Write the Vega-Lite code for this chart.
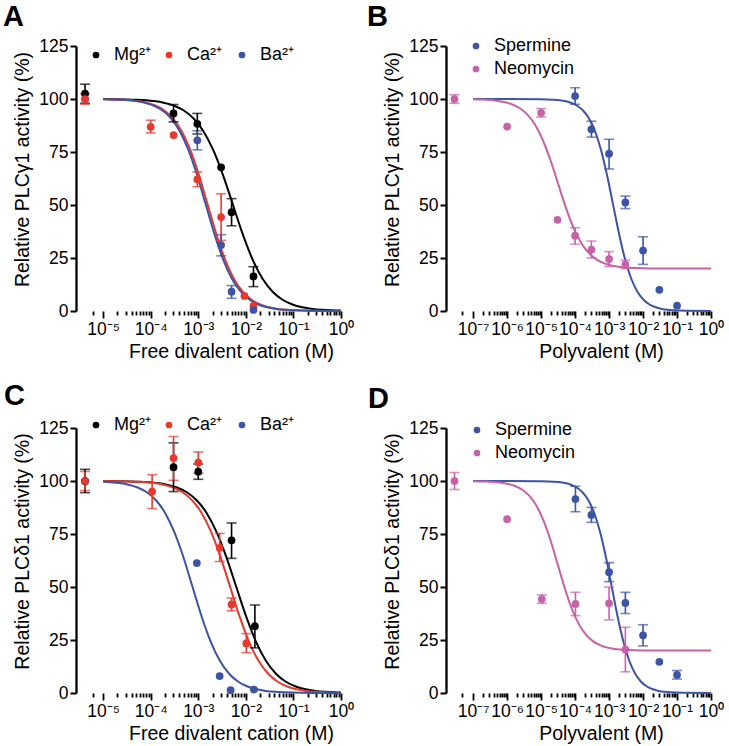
{
  "$schema": "https://vega.github.io/schema/vega-lite/v6.json",
  "padding": {"left": 3, "top": 3, "right": 5, "bottom": 5},
  "columns": 2,
  "spacing": {"row": 117, "column": 105},
  "bounds": "flush",
  "resolve": {"scale": {"color": "independent", "x": "independent", "y": "independent"}, "legend": {"color": "independent"}, "axis": {"x": "independent", "y": "independent"}},
  "datasets": {
    "seg": [
      {"p": "A", "x": -5.57, "x2": -5.22}, {"p": "A", "x": -5, "x2": 0},
      {"p": "C", "x": -5.57, "x2": -5.22}, {"p": "C", "x": -5, "x2": 0},
      {"p": "B", "x": -7.8, "x2": -7.33}, {"p": "B", "x": -7, "x2": 0},
      {"p": "D", "x": -7.8, "x2": -7.33}, {"p": "D", "x": -7, "x2": 0}
    ],
    "pts": [
      {"p": "A", "s": "Ba²⁺", "x": -5.38, "y": 100},
      {"p": "A", "s": "Mg²⁺", "x": -5.38, "y": 102.5, "lo": 98, "hi": 107},
      {"p": "A", "s": "Ca²⁺", "x": -5.38, "y": 100, "lo": 97.5, "hi": 102.5},
      {"p": "A", "s": "Mg²⁺", "x": -3.52, "y": 93.2, "lo": 89.2, "hi": 97.4},
      {"p": "A", "s": "Mg²⁺", "x": -3.02, "y": 88.3, "lo": 83.5, "hi": 93.2},
      {"p": "A", "s": "Mg²⁺", "x": -2.52, "y": 67.8},
      {"p": "A", "s": "Mg²⁺", "x": -2.3, "y": 46.6, "lo": 40.2, "hi": 53},
      {"p": "A", "s": "Mg²⁺", "x": -1.84, "y": 16.3, "lo": 11.5, "hi": 20.9},
      {"p": "A", "s": "Ca²⁺", "x": -4.0, "y": 86.9, "lo": 84, "hi": 90},
      {"p": "A", "s": "Ca²⁺", "x": -3.52, "y": 83},
      {"p": "A", "s": "Ca²⁺", "x": -3.02, "y": 62.1, "lo": 58.6, "hi": 65.6},
      {"p": "A", "s": "Ca²⁺", "x": -2.52, "y": 44.3, "lo": 33.3, "hi": 55.3},
      {"p": "A", "s": "Ca²⁺", "x": -2.03, "y": 7.1},
      {"p": "A", "s": "Ca²⁺", "x": -1.84, "y": 2.4},
      {"p": "A", "s": "Ba²⁺", "x": -3.02, "y": 80.5, "lo": 76, "hi": 85},
      {"p": "A", "s": "Ba²⁺", "x": -2.52, "y": 31.1, "lo": 26, "hi": 36},
      {"p": "A", "s": "Ba²⁺", "x": -2.3, "y": 9.1, "lo": 6, "hi": 12},
      {"p": "A", "s": "Ba²⁺", "x": -1.84, "y": 0.5},

      {"p": "B", "s": "Neomycin", "x": -7.55, "y": 100, "lo": 98, "hi": 102},
      {"p": "B", "s": "Spermine", "x": -4.0, "y": 101.4, "lo": 97.5, "hi": 105.3},
      {"p": "B", "s": "Spermine", "x": -3.52, "y": 85.7, "lo": 82, "hi": 89.5},
      {"p": "B", "s": "Spermine", "x": -3.0, "y": 74.2, "lo": 67, "hi": 81},
      {"p": "B", "s": "Spermine", "x": -2.52, "y": 51.2, "lo": 48.3, "hi": 54.2},
      {"p": "B", "s": "Spermine", "x": -2.0, "y": 28.5, "lo": 22, "hi": 35},
      {"p": "B", "s": "Spermine", "x": -1.52, "y": 10},
      {"p": "B", "s": "Spermine", "x": -1.0, "y": 2.5},
      {"p": "B", "s": "Neomycin", "x": -6.0, "y": 87},
      {"p": "B", "s": "Neomycin", "x": -5.0, "y": 93.5, "lo": 91.5, "hi": 95.5},
      {"p": "B", "s": "Neomycin", "x": -4.52, "y": 43},
      {"p": "B", "s": "Neomycin", "x": -4.0, "y": 35.5, "lo": 31.5, "hi": 39.3},
      {"p": "B", "s": "Neomycin", "x": -3.52, "y": 29, "lo": 25, "hi": 33},
      {"p": "B", "s": "Neomycin", "x": -3.0, "y": 24.5, "lo": 21, "hi": 28},
      {"p": "B", "s": "Neomycin", "x": -2.52, "y": 22, "lo": 20, "hi": 24},

      {"p": "C", "s": "Ba²⁺", "x": -5.38, "y": 100},
      {"p": "C", "s": "Mg²⁺", "x": -5.38, "y": 100, "lo": 94.5, "hi": 105.5},
      {"p": "C", "s": "Ca²⁺", "x": -5.38, "y": 100, "lo": 95.5, "hi": 104.5},
      {"p": "C", "s": "Mg²⁺", "x": -3.52, "y": 106.5, "lo": 95, "hi": 118},
      {"p": "C", "s": "Mg²⁺", "x": -3.0, "y": 104.4, "lo": 100.8, "hi": 108},
      {"p": "C", "s": "Mg²⁺", "x": -2.3, "y": 72, "lo": 63.5, "hi": 80.2},
      {"p": "C", "s": "Mg²⁺", "x": -1.81, "y": 31.5, "lo": 21.3, "hi": 41.5},
      {"p": "C", "s": "Ca²⁺", "x": -3.97, "y": 95, "lo": 87, "hi": 103},
      {"p": "C", "s": "Ca²⁺", "x": -3.52, "y": 110.8, "lo": 100.3, "hi": 121},
      {"p": "C", "s": "Ca²⁺", "x": -3.0, "y": 108.7, "lo": 103.7, "hi": 113.7},
      {"p": "C", "s": "Ca²⁺", "x": -2.55, "y": 68.5, "lo": 62, "hi": 75.3},
      {"p": "C", "s": "Ca²⁺", "x": -2.3, "y": 41.8, "lo": 38.8, "hi": 44.8},
      {"p": "C", "s": "Ca²⁺", "x": -1.99, "y": 23.4, "lo": 19, "hi": 28},
      {"p": "C", "s": "Ba²⁺", "x": -3.03, "y": 61.3},
      {"p": "C", "s": "Ba²⁺", "x": -2.55, "y": 8},
      {"p": "C", "s": "Ba²⁺", "x": -2.32, "y": 1.3},
      {"p": "C", "s": "Ba²⁺", "x": -1.83, "y": 1.6},

      {"p": "D", "s": "Neomycin", "x": -7.55, "y": 100, "lo": 96, "hi": 104},
      {"p": "D", "s": "Spermine", "x": -3.99, "y": 91.5, "lo": 85.5, "hi": 97.5},
      {"p": "D", "s": "Spermine", "x": -3.52, "y": 84, "lo": 80.5, "hi": 87.5},
      {"p": "D", "s": "Spermine", "x": -3.0, "y": 57, "lo": 52.5, "hi": 61.5},
      {"p": "D", "s": "Spermine", "x": -2.52, "y": 42.5, "lo": 37.5, "hi": 47.5},
      {"p": "D", "s": "Spermine", "x": -2.0, "y": 27.2, "lo": 22.2, "hi": 32.2},
      {"p": "D", "s": "Spermine", "x": -1.52, "y": 14.7},
      {"p": "D", "s": "Spermine", "x": -1.0, "y": 8.6, "lo": 6.6, "hi": 10.6},
      {"p": "D", "s": "Neomycin", "x": -6.0, "y": 82},
      {"p": "D", "s": "Neomycin", "x": -4.98, "y": 44.3, "lo": 42.3, "hi": 46.3},
      {"p": "D", "s": "Neomycin", "x": -3.99, "y": 42, "lo": 36.5, "hi": 47.5},
      {"p": "D", "s": "Neomycin", "x": -3.0, "y": 42.3, "lo": 34.5, "hi": 50},
      {"p": "D", "s": "Neomycin", "x": -2.52, "y": 20.5, "lo": 10, "hi": 31}
    ],
    "cv": [
      {"p":"A","s":"Mg²⁺","x":-5,"y":99.95},{"p":"A","s":"Mg²⁺","x":-4.77,"y":99.9},{"p":"A","s":"Mg²⁺","x":-4.353,"y":99.68},{"p":"A","s":"Mg²⁺","x":-3.937,"y":99.01},{"p":"A","s":"Mg²⁺","x":-3.728,"y":98.25},{"p":"A","s":"Mg²⁺","x":-3.52,"y":96.93},{"p":"A","s":"Mg²⁺","x":-3.312,"y":94.68},{"p":"A","s":"Mg²⁺","x":-3.103,"y":90.91},{"p":"A","s":"Mg²⁺","x":-2.895,"y":84.91},{"p":"A","s":"Mg²⁺","x":-2.687,"y":75.97},{"p":"A","s":"Mg²⁺","x":-2.478,"y":64.01},{"p":"A","s":"Mg²⁺","x":-2.27,"y":50},{"p":"A","s":"Mg²⁺","x":-2.062,"y":35.99},{"p":"A","s":"Mg²⁺","x":-1.853,"y":24.03},{"p":"A","s":"Mg²⁺","x":-1.645,"y":15.09},{"p":"A","s":"Mg²⁺","x":-1.437,"y":9.09},{"p":"A","s":"Mg²⁺","x":-1.228,"y":5.32},{"p":"A","s":"Mg²⁺","x":-1.02,"y":3.07},{"p":"A","s":"Mg²⁺","x":-0.812,"y":1.75},{"p":"A","s":"Mg²⁺","x":-0.603,"y":0.99},{"p":"A","s":"Mg²⁺","x":-0.395,"y":0.56},{"p":"A","s":"Mg²⁺","x":-0.187,"y":0.32},{"p":"A","s":"Mg²⁺","x":0,"y":0.19},

      {"p":"A","s":"Ca²⁺","x":-5,"y":99.9},{"p":"A","s":"Ca²⁺","x":-4.638,"y":99.68},{"p":"A","s":"Ca²⁺","x":-4.271,"y":99.01},{"p":"A","s":"Ca²⁺","x":-4.087,"y":98.25},{"p":"A","s":"Ca²⁺","x":-3.903,"y":96.93},{"p":"A","s":"Ca²⁺","x":-3.719,"y":94.68},{"p":"A","s":"Ca²⁺","x":-3.535,"y":90.91},{"p":"A","s":"Ca²⁺","x":-3.352,"y":84.91},{"p":"A","s":"Ca²⁺","x":-3.168,"y":75.97},{"p":"A","s":"Ca²⁺","x":-2.984,"y":64.01},{"p":"A","s":"Ca²⁺","x":-2.8,"y":50},{"p":"A","s":"Ca²⁺","x":-2.616,"y":35.99},{"p":"A","s":"Ca²⁺","x":-2.432,"y":24.03},{"p":"A","s":"Ca²⁺","x":-2.249,"y":15.09},{"p":"A","s":"Ca²⁺","x":-2.065,"y":9.09},{"p":"A","s":"Ca²⁺","x":-1.881,"y":5.32},{"p":"A","s":"Ca²⁺","x":-1.697,"y":3.07},{"p":"A","s":"Ca²⁺","x":-1.513,"y":1.75},{"p":"A","s":"Ca²⁺","x":-1.329,"y":0.99},{"p":"A","s":"Ca²⁺","x":-1.146,"y":0.56},{"p":"A","s":"Ca²⁺","x":-0.962,"y":0.32},{"p":"A","s":"Ca²⁺","x":-0.594,"y":0.1},{"p":"A","s":"Ca²⁺","x":0,"y":0.02},

      {"p":"A","s":"Ba²⁺","x":-5,"y":99.89},{"p":"A","s":"Ba²⁺","x":-4.678,"y":99.68},{"p":"A","s":"Ba²⁺","x":-4.311,"y":99.01},{"p":"A","s":"Ba²⁺","x":-4.127,"y":98.25},{"p":"A","s":"Ba²⁺","x":-3.943,"y":96.93},{"p":"A","s":"Ba²⁺","x":-3.759,"y":94.68},{"p":"A","s":"Ba²⁺","x":-3.575,"y":90.91},{"p":"A","s":"Ba²⁺","x":-3.392,"y":84.91},{"p":"A","s":"Ba²⁺","x":-3.208,"y":75.97},{"p":"A","s":"Ba²⁺","x":-3.024,"y":64.01},{"p":"A","s":"Ba²⁺","x":-2.84,"y":50},{"p":"A","s":"Ba²⁺","x":-2.656,"y":35.99},{"p":"A","s":"Ba²⁺","x":-2.472,"y":24.03},{"p":"A","s":"Ba²⁺","x":-2.289,"y":15.09},{"p":"A","s":"Ba²⁺","x":-2.105,"y":9.09},{"p":"A","s":"Ba²⁺","x":-1.921,"y":5.32},{"p":"A","s":"Ba²⁺","x":-1.737,"y":3.07},{"p":"A","s":"Ba²⁺","x":-1.553,"y":1.75},{"p":"A","s":"Ba²⁺","x":-1.369,"y":0.99},{"p":"A","s":"Ba²⁺","x":-1.186,"y":0.56},{"p":"A","s":"Ba²⁺","x":-1.002,"y":0.32},{"p":"A","s":"Ba²⁺","x":-0.634,"y":0.1},{"p":"A","s":"Ba²⁺","x":0,"y":0.01},

      {"p":"B","s":"Spermine","x":-7,"y":100},{"p":"B","s":"Spermine","x":-6,"y":100},{"p":"B","s":"Spermine","x":-5.023,"y":99.9},{"p":"B","s":"Spermine","x":-4.666,"y":99.68},{"p":"B","s":"Spermine","x":-4.309,"y":99.01},{"p":"B","s":"Spermine","x":-4.13,"y":98.25},{"p":"B","s":"Spermine","x":-3.951,"y":96.93},{"p":"B","s":"Spermine","x":-3.773,"y":94.68},{"p":"B","s":"Spermine","x":-3.594,"y":90.91},{"p":"B","s":"Spermine","x":-3.416,"y":84.91},{"p":"B","s":"Spermine","x":-3.237,"y":75.97},{"p":"B","s":"Spermine","x":-3.059,"y":64.01},{"p":"B","s":"Spermine","x":-2.88,"y":50},{"p":"B","s":"Spermine","x":-2.701,"y":35.99},{"p":"B","s":"Spermine","x":-2.523,"y":24.03},{"p":"B","s":"Spermine","x":-2.344,"y":15.09},{"p":"B","s":"Spermine","x":-2.166,"y":9.09},{"p":"B","s":"Spermine","x":-1.987,"y":5.32},{"p":"B","s":"Spermine","x":-1.809,"y":3.07},{"p":"B","s":"Spermine","x":-1.63,"y":1.75},{"p":"B","s":"Spermine","x":-1.451,"y":0.99},{"p":"B","s":"Spermine","x":-1.273,"y":0.56},{"p":"B","s":"Spermine","x":-1.094,"y":0.32},{"p":"B","s":"Spermine","x":-0.737,"y":0.1},{"p":"B","s":"Spermine","x":0,"y":0.01},

      {"p":"B","s":"Neomycin","x":-7,"y":99.86},{"p":"B","s":"Neomycin","x":-6.773,"y":99.74},{"p":"B","s":"Neomycin","x":-6.318,"y":99.21},{"p":"B","s":"Neomycin","x":-6.091,"y":98.6},{"p":"B","s":"Neomycin","x":-5.864,"y":97.54},{"p":"B","s":"Neomycin","x":-5.636,"y":95.74},{"p":"B","s":"Neomycin","x":-5.409,"y":92.73},{"p":"B","s":"Neomycin","x":-5.182,"y":87.93},{"p":"B","s":"Neomycin","x":-4.955,"y":80.78},{"p":"B","s":"Neomycin","x":-4.727,"y":71.21},{"p":"B","s":"Neomycin","x":-4.5,"y":60},{"p":"B","s":"Neomycin","x":-4.273,"y":48.79},{"p":"B","s":"Neomycin","x":-4.045,"y":39.22},{"p":"B","s":"Neomycin","x":-3.818,"y":32.07},{"p":"B","s":"Neomycin","x":-3.591,"y":27.27},{"p":"B","s":"Neomycin","x":-3.364,"y":24.26},{"p":"B","s":"Neomycin","x":-3.136,"y":22.46},{"p":"B","s":"Neomycin","x":-2.909,"y":21.4},{"p":"B","s":"Neomycin","x":-2.682,"y":20.79},{"p":"B","s":"Neomycin","x":-2.227,"y":20.26},{"p":"B","s":"Neomycin","x":-1.773,"y":20.08},{"p":"B","s":"Neomycin","x":0,"y":20},

      {"p":"C","s":"Mg²⁺","x":-5,"y":99.96},{"p":"C","s":"Mg²⁺","x":-4.7,"y":99.9},{"p":"C","s":"Mg²⁺","x":-4.283,"y":99.68},{"p":"C","s":"Mg²⁺","x":-3.867,"y":99.01},{"p":"C","s":"Mg²⁺","x":-3.658,"y":98.25},{"p":"C","s":"Mg²⁺","x":-3.45,"y":96.93},{"p":"C","s":"Mg²⁺","x":-3.242,"y":94.68},{"p":"C","s":"Mg²⁺","x":-3.033,"y":90.91},{"p":"C","s":"Mg²⁺","x":-2.825,"y":84.91},{"p":"C","s":"Mg²⁺","x":-2.617,"y":75.97},{"p":"C","s":"Mg²⁺","x":-2.408,"y":64.01},{"p":"C","s":"Mg²⁺","x":-2.2,"y":50},{"p":"C","s":"Mg²⁺","x":-1.992,"y":35.99},{"p":"C","s":"Mg²⁺","x":-1.783,"y":24.03},{"p":"C","s":"Mg²⁺","x":-1.575,"y":15.09},{"p":"C","s":"Mg²⁺","x":-1.367,"y":9.09},{"p":"C","s":"Mg²⁺","x":-1.158,"y":5.32},{"p":"C","s":"Mg²⁺","x":-0.95,"y":3.07},{"p":"C","s":"Mg²⁺","x":-0.742,"y":1.75},{"p":"C","s":"Mg²⁺","x":-0.533,"y":0.99},{"p":"C","s":"Mg²⁺","x":-0.325,"y":0.56},{"p":"C","s":"Mg²⁺","x":-0.117,"y":0.32},{"p":"C","s":"Mg²⁺","x":0,"y":0.23},

      {"p":"C","s":"Ca²⁺","x":-5,"y":99.95},{"p":"C","s":"Ca²⁺","x":-4.73,"y":99.9},{"p":"C","s":"Ca²⁺","x":-4.33,"y":99.68},{"p":"C","s":"Ca²⁺","x":-3.93,"y":99.01},{"p":"C","s":"Ca²⁺","x":-3.73,"y":98.25},{"p":"C","s":"Ca²⁺","x":-3.53,"y":96.93},{"p":"C","s":"Ca²⁺","x":-3.33,"y":94.68},{"p":"C","s":"Ca²⁺","x":-3.13,"y":90.91},{"p":"C","s":"Ca²⁺","x":-2.93,"y":84.91},{"p":"C","s":"Ca²⁺","x":-2.73,"y":75.97},{"p":"C","s":"Ca²⁺","x":-2.53,"y":64.01},{"p":"C","s":"Ca²⁺","x":-2.33,"y":50},{"p":"C","s":"Ca²⁺","x":-2.13,"y":35.99},{"p":"C","s":"Ca²⁺","x":-1.93,"y":24.03},{"p":"C","s":"Ca²⁺","x":-1.73,"y":15.09},{"p":"C","s":"Ca²⁺","x":-1.53,"y":9.09},{"p":"C","s":"Ca²⁺","x":-1.33,"y":5.32},{"p":"C","s":"Ca²⁺","x":-1.13,"y":3.07},{"p":"C","s":"Ca²⁺","x":-0.93,"y":1.75},{"p":"C","s":"Ca²⁺","x":-0.73,"y":0.99},{"p":"C","s":"Ca²⁺","x":-0.53,"y":0.56},{"p":"C","s":"Ca²⁺","x":-0.33,"y":0.32},{"p":"C","s":"Ca²⁺","x":0,"y":0.12},

      {"p":"C","s":"Ba²⁺","x":-5,"y":99.64},{"p":"C","s":"Ba²⁺","x":-4.851,"y":99.44},{"p":"C","s":"Ba²⁺","x":-4.658,"y":99.01},{"p":"C","s":"Ba²⁺","x":-4.466,"y":98.25},{"p":"C","s":"Ba²⁺","x":-4.274,"y":96.93},{"p":"C","s":"Ba²⁺","x":-4.082,"y":94.68},{"p":"C","s":"Ba²⁺","x":-3.889,"y":90.91},{"p":"C","s":"Ba²⁺","x":-3.697,"y":84.91},{"p":"C","s":"Ba²⁺","x":-3.505,"y":75.97},{"p":"C","s":"Ba²⁺","x":-3.312,"y":64.01},{"p":"C","s":"Ba²⁺","x":-3.12,"y":50},{"p":"C","s":"Ba²⁺","x":-2.928,"y":35.99},{"p":"C","s":"Ba²⁺","x":-2.735,"y":24.03},{"p":"C","s":"Ba²⁺","x":-2.543,"y":15.09},{"p":"C","s":"Ba²⁺","x":-2.351,"y":9.09},{"p":"C","s":"Ba²⁺","x":-2.158,"y":5.32},{"p":"C","s":"Ba²⁺","x":-1.966,"y":3.07},{"p":"C","s":"Ba²⁺","x":-1.774,"y":1.75},{"p":"C","s":"Ba²⁺","x":-1.582,"y":0.99},{"p":"C","s":"Ba²⁺","x":-1.389,"y":0.56},{"p":"C","s":"Ba²⁺","x":-1.197,"y":0.32},{"p":"C","s":"Ba²⁺","x":-0.812,"y":0.1},{"p":"C","s":"Ba²⁺","x":0,"y":0.01},

      {"p":"D","s":"Spermine","x":-7,"y":100},{"p":"D","s":"Spermine","x":-6,"y":100},{"p":"D","s":"Spermine","x":-4.989,"y":99.9},{"p":"D","s":"Spermine","x":-4.644,"y":99.68},{"p":"D","s":"Spermine","x":-4.299,"y":99.01},{"p":"D","s":"Spermine","x":-4.127,"y":98.25},{"p":"D","s":"Spermine","x":-3.954,"y":96.93},{"p":"D","s":"Spermine","x":-3.782,"y":94.68},{"p":"D","s":"Spermine","x":-3.61,"y":90.91},{"p":"D","s":"Spermine","x":-3.437,"y":84.91},{"p":"D","s":"Spermine","x":-3.265,"y":75.97},{"p":"D","s":"Spermine","x":-3.092,"y":64.01},{"p":"D","s":"Spermine","x":-2.92,"y":50},{"p":"D","s":"Spermine","x":-2.748,"y":35.99},{"p":"D","s":"Spermine","x":-2.575,"y":24.03},{"p":"D","s":"Spermine","x":-2.403,"y":15.09},{"p":"D","s":"Spermine","x":-2.23,"y":9.09},{"p":"D","s":"Spermine","x":-2.058,"y":5.32},{"p":"D","s":"Spermine","x":-1.886,"y":3.07},{"p":"D","s":"Spermine","x":-1.713,"y":1.75},{"p":"D","s":"Spermine","x":-1.541,"y":0.99},{"p":"D","s":"Spermine","x":-1.368,"y":0.56},{"p":"D","s":"Spermine","x":-1.196,"y":0.32},{"p":"D","s":"Spermine","x":-0.851,"y":0.1},{"p":"D","s":"Spermine","x":0,"y":0},

      {"p":"D","s":"Neomycin","x":-7,"y":99.92},{"p":"D","s":"Neomycin","x":-6.583,"y":99.74},{"p":"D","s":"Neomycin","x":-6.167,"y":99.21},{"p":"D","s":"Neomycin","x":-5.958,"y":98.6},{"p":"D","s":"Neomycin","x":-5.75,"y":97.54},{"p":"D","s":"Neomycin","x":-5.542,"y":95.74},{"p":"D","s":"Neomycin","x":-5.333,"y":92.73},{"p":"D","s":"Neomycin","x":-5.125,"y":87.93},{"p":"D","s":"Neomycin","x":-4.917,"y":80.78},{"p":"D","s":"Neomycin","x":-4.708,"y":71.21},{"p":"D","s":"Neomycin","x":-4.5,"y":60},{"p":"D","s":"Neomycin","x":-4.292,"y":48.79},{"p":"D","s":"Neomycin","x":-4.083,"y":39.22},{"p":"D","s":"Neomycin","x":-3.875,"y":32.07},{"p":"D","s":"Neomycin","x":-3.667,"y":27.27},{"p":"D","s":"Neomycin","x":-3.458,"y":24.26},{"p":"D","s":"Neomycin","x":-3.25,"y":22.46},{"p":"D","s":"Neomycin","x":-3.042,"y":21.4},{"p":"D","s":"Neomycin","x":-2.833,"y":20.79},{"p":"D","s":"Neomycin","x":-2.417,"y":20.26},{"p":"D","s":"Neomycin","x":-2.0,"y":20.08},{"p":"D","s":"Neomycin","x":0,"y":20}
    ]
  },
  "concat": [
    {
      "width": 265, "height": 265,
      "title": {"text": "A", "dx": -73},
      "encoding": {
        "x": {"field": "x", "type": "quantitative", "scale": {"domain": [-5.57, 0], "nice": false, "zero": false},
          "axis": {"title": "Free divalent cation (M)", "domain": false, "grid": false,
            "values": [-5.22, -5, -4.699, -4.523, -4.398, -4.301, -4.222, -4.155, -4.097, -4.046, -4, -3.699, -3.523, -3.398, -3.301, -3.222, -3.155, -3.097, -3.046, -3, -2.699, -2.523, -2.398, -2.301, -2.222, -2.155, -2.097, -2.046, -2, -1.699, -1.523, -1.398, -1.301, -1.222, -1.155, -1.097, -1.046, -1, -0.699, -0.523, -0.398, -0.301, -0.222, -0.155, -0.097, -0.046, 0],
            "labelExpr": "abs(datum.value - round(datum.value)) < 0.001 ? ['10⁰','10⁻¹','10⁻²','10⁻³','10⁻⁴','10⁻⁵','10⁻⁶','10⁻⁷'][abs(round(datum.value))] : ''",
            "tickSize": {"condition": {"test": "abs(datum.value - round(datum.value)) < 0.001", "value": 7}, "value": 4},
            "titleX": 155, "titleY": 46, "titleAlign": "center", "titleBaseline": "alphabetic"}},
        "y": {"field": "y", "type": "quantitative", "scale": {"domain": [0, 125], "nice": false},
          "axis": {"title": "Relative PLCγ1 activity (%)", "values": [0, 25, 50, 75, 100, 125], "grid": false, "titleX": -48, "titleY": 123, "titleAngle": 270, "titleAlign": "center", "titleBaseline": "alphabetic"}},
        "color": {"field": "s", "type": "nominal", "scale": {"domain": ["Mg²⁺", "Ca²⁺", "Ba²⁺"], "range": ["#000000", "#E8392D", "#3D54A4"]},
          "legend": {"orient": "none", "legendX": 11, "legendY": 0, "direction": "horizontal", "gridAlign": "all", "columnPadding": 9, "title": null}}
      },
      "layer": [
        {"data": {"name": "seg"}, "transform": [{"filter": "datum.p == 'A'"}],
          "mark": {"type": "rule", "color": "black", "strokeWidth": 2.3},
          "encoding": {"x2": {"field": "x2"}, "y": {"datum": 0, "type": "quantitative"}, "color": {"value": "black"}}},
        {"data": {"name": "cv"}, "transform": [{"filter": "datum.p == 'A'"}],
          "mark": {"type": "line", "strokeWidth": 2, "interpolate": "monotone"}},
        {"data": {"name": "pts"}, "transform": [{"filter": "datum.p == 'A' && datum.lo != null"}],
          "mark": {"type": "errorbar", "thickness": 1.6, "ticks": {"size": 10, "thickness": 1.6}},
          "encoding": {"y": {"field": "lo", "type": "quantitative"}, "y2": {"field": "hi"}}},
        {"data": {"name": "pts"}, "transform": [{"filter": "datum.p == 'A'"}],
          "mark": {"type": "point", "filled": true, "size": 60, "opacity": 1}}
      ]
    },
    {
      "width": 265, "height": 265,
      "title": {"text": "B", "dx": -79},
      "encoding": {
        "x": {"field": "x", "type": "quantitative", "scale": {"domain": [-7.8, 0], "nice": false, "zero": false},
          "axis": {"title": "Polyvalent (M)", "domain": false, "grid": false,
            "values": [-7.33, -7, -6.699, -6.523, -6.398, -6.301, -6.222, -6.155, -6.097, -6.046, -6, -5.699, -5.523, -5.398, -5.301, -5.222, -5.155, -5.097, -5.046, -5, -4.699, -4.523, -4.398, -4.301, -4.222, -4.155, -4.097, -4.046, -4, -3.699, -3.523, -3.398, -3.301, -3.222, -3.155, -3.097, -3.046, -3, -2.699, -2.523, -2.398, -2.301, -2.222, -2.155, -2.097, -2.046, -2, -1.699, -1.523, -1.398, -1.301, -1.222, -1.155, -1.097, -1.046, -1, -0.699, -0.523, -0.398, -0.301, -0.222, -0.155, -0.097, -0.046, 0],
            "labelExpr": "abs(datum.value - round(datum.value)) < 0.001 ? ['10⁰','10⁻¹','10⁻²','10⁻³','10⁻⁴','10⁻⁵','10⁻⁶','10⁻⁷'][abs(round(datum.value))] : ''",
            "tickSize": {"condition": {"test": "abs(datum.value - round(datum.value)) < 0.001", "value": 7}, "value": 4},
            "titleX": 155, "titleY": 46, "titleAlign": "center", "titleBaseline": "alphabetic"}},
        "y": {"field": "y", "type": "quantitative", "scale": {"domain": [0, 125], "nice": false},
          "axis": {"title": "Relative PLCγ1 activity (%)", "values": [0, 25, 50, 75, 100, 125], "grid": false, "titleX": -48, "titleY": 123, "titleAngle": 270, "titleAlign": "center", "titleBaseline": "alphabetic"}},
        "color": {"field": "s", "type": "nominal", "scale": {"domain": ["Spermine", "Neomycin"], "range": ["#3D54A4", "#C761A8"]},
          "legend": {"orient": "none", "legendX": 21, "legendY": -9, "direction": "vertical", "title": null}}
      },
      "layer": [
        {"data": {"name": "seg"}, "transform": [{"filter": "datum.p == 'B'"}],
          "mark": {"type": "rule", "color": "black", "strokeWidth": 2.3},
          "encoding": {"x2": {"field": "x2"}, "y": {"datum": 0, "type": "quantitative"}, "color": {"value": "black"}}},
        {"data": {"name": "cv"}, "transform": [{"filter": "datum.p == 'B'"}],
          "mark": {"type": "line", "strokeWidth": 2, "interpolate": "monotone"}},
        {"data": {"name": "pts"}, "transform": [{"filter": "datum.p == 'B' && datum.lo != null"}],
          "mark": {"type": "errorbar", "thickness": 1.6, "ticks": {"size": 10, "thickness": 1.6}},
          "encoding": {"y": {"field": "lo", "type": "quantitative"}, "y2": {"field": "hi"}}},
        {"data": {"name": "pts"}, "transform": [{"filter": "datum.p == 'B'"}],
          "mark": {"type": "point", "filled": true, "size": 60, "opacity": 1}}
      ]
    },
    {
      "width": 265, "height": 265,
      "title": {"text": "C", "dx": -72},
      "encoding": {
        "x": {"field": "x", "type": "quantitative", "scale": {"domain": [-5.57, 0], "nice": false, "zero": false},
          "axis": {"title": "Free divalent cation (M)", "domain": false, "grid": false,
            "values": [-5.22, -5, -4.699, -4.523, -4.398, -4.301, -4.222, -4.155, -4.097, -4.046, -4, -3.699, -3.523, -3.398, -3.301, -3.222, -3.155, -3.097, -3.046, -3, -2.699, -2.523, -2.398, -2.301, -2.222, -2.155, -2.097, -2.046, -2, -1.699, -1.523, -1.398, -1.301, -1.222, -1.155, -1.097, -1.046, -1, -0.699, -0.523, -0.398, -0.301, -0.222, -0.155, -0.097, -0.046, 0],
            "labelExpr": "abs(datum.value - round(datum.value)) < 0.001 ? ['10⁰','10⁻¹','10⁻²','10⁻³','10⁻⁴','10⁻⁵','10⁻⁶','10⁻⁷'][abs(round(datum.value))] : ''",
            "tickSize": {"condition": {"test": "abs(datum.value - round(datum.value)) < 0.001", "value": 7}, "value": 4},
            "titleX": 155, "titleY": 46, "titleAlign": "center", "titleBaseline": "alphabetic"}},
        "y": {"field": "y", "type": "quantitative", "scale": {"domain": [0, 125], "nice": false},
          "axis": {"title": "Relative PLCδ1 activity (%)", "values": [0, 25, 50, 75, 100, 125], "grid": false, "titleX": -48, "titleY": 123, "titleAngle": 270, "titleAlign": "center", "titleBaseline": "alphabetic"}},
        "color": {"field": "s", "type": "nominal", "scale": {"domain": ["Mg²⁺", "Ca²⁺", "Ba²⁺"], "range": ["#000000", "#E8392D", "#3D54A4"]},
          "legend": {"orient": "none", "legendX": 11, "legendY": -12, "direction": "horizontal", "gridAlign": "all", "columnPadding": 9, "title": null}}
      },
      "layer": [
        {"data": {"name": "seg"}, "transform": [{"filter": "datum.p == 'C'"}],
          "mark": {"type": "rule", "color": "black", "strokeWidth": 2.3},
          "encoding": {"x2": {"field": "x2"}, "y": {"datum": 0, "type": "quantitative"}, "color": {"value": "black"}}},
        {"data": {"name": "cv"}, "transform": [{"filter": "datum.p == 'C'"}],
          "mark": {"type": "line", "strokeWidth": 2, "interpolate": "monotone"}},
        {"data": {"name": "pts"}, "transform": [{"filter": "datum.p == 'C' && datum.lo != null"}],
          "mark": {"type": "errorbar", "thickness": 1.6, "ticks": {"size": 10, "thickness": 1.6}},
          "encoding": {"y": {"field": "lo", "type": "quantitative"}, "y2": {"field": "hi"}}},
        {"data": {"name": "pts"}, "transform": [{"filter": "datum.p == 'C'"}],
          "mark": {"type": "point", "filled": true, "size": 60, "opacity": 1}}
      ]
    },
    {
      "width": 265, "height": 265,
      "title": {"text": "D", "dx": -78},
      "encoding": {
        "x": {"field": "x", "type": "quantitative", "scale": {"domain": [-7.8, 0], "nice": false, "zero": false},
          "axis": {"title": "Polyvalent (M)", "domain": false, "grid": false,
            "values": [-7.33, -7, -6.699, -6.523, -6.398, -6.301, -6.222, -6.155, -6.097, -6.046, -6, -5.699, -5.523, -5.398, -5.301, -5.222, -5.155, -5.097, -5.046, -5, -4.699, -4.523, -4.398, -4.301, -4.222, -4.155, -4.097, -4.046, -4, -3.699, -3.523, -3.398, -3.301, -3.222, -3.155, -3.097, -3.046, -3, -2.699, -2.523, -2.398, -2.301, -2.222, -2.155, -2.097, -2.046, -2, -1.699, -1.523, -1.398, -1.301, -1.222, -1.155, -1.097, -1.046, -1, -0.699, -0.523, -0.398, -0.301, -0.222, -0.155, -0.097, -0.046, 0],
            "labelExpr": "abs(datum.value - round(datum.value)) < 0.001 ? ['10⁰','10⁻¹','10⁻²','10⁻³','10⁻⁴','10⁻⁵','10⁻⁶','10⁻⁷'][abs(round(datum.value))] : ''",
            "tickSize": {"condition": {"test": "abs(datum.value - round(datum.value)) < 0.001", "value": 7}, "value": 4},
            "titleX": 155, "titleY": 46, "titleAlign": "center", "titleBaseline": "alphabetic"}},
        "y": {"field": "y", "type": "quantitative", "scale": {"domain": [0, 125], "nice": false},
          "axis": {"title": "Relative PLCδ1 activity (%)", "values": [0, 25, 50, 75, 100, 125], "grid": false, "titleX": -48, "titleY": 123, "titleAngle": 270, "titleAlign": "center", "titleBaseline": "alphabetic"}},
        "color": {"field": "s", "type": "nominal", "scale": {"domain": ["Spermine", "Neomycin"], "range": ["#3D54A4", "#C761A8"]},
          "legend": {"orient": "none", "legendX": 22, "legendY": -7, "direction": "vertical", "title": null}}
      },
      "layer": [
        {"data": {"name": "seg"}, "transform": [{"filter": "datum.p == 'D'"}],
          "mark": {"type": "rule", "color": "black", "strokeWidth": 2.3},
          "encoding": {"x2": {"field": "x2"}, "y": {"datum": 0, "type": "quantitative"}, "color": {"value": "black"}}},
        {"data": {"name": "cv"}, "transform": [{"filter": "datum.p == 'D'"}],
          "mark": {"type": "line", "strokeWidth": 2, "interpolate": "monotone"}},
        {"data": {"name": "pts"}, "transform": [{"filter": "datum.p == 'D' && datum.lo != null"}],
          "mark": {"type": "errorbar", "thickness": 1.6, "ticks": {"size": 10, "thickness": 1.6}},
          "encoding": {"y": {"field": "lo", "type": "quantitative"}, "y2": {"field": "hi"}}},
        {"data": {"name": "pts"}, "transform": [{"filter": "datum.p == 'D'"}],
          "mark": {"type": "point", "filled": true, "size": 60, "opacity": 1}}
      ]
    }
  ],
  "config": {
    "font": "Liberation Sans",
    "view": {"stroke": null},
    "title": {"anchor": "start", "frame": "group", "offset": 5, "fontSize": 29, "fontWeight": "bold", "baseline": "alphabetic", "color": "black", "font": "Liberation Sans"},
    "axis": {"labelFont": "Liberation Sans", "titleFont": "Liberation Sans", "labelFontSize": 17.5, "titleFontSize": 19.5, "titleFontWeight": "normal", "labelColor": "black", "titleColor": "black", "domainColor": "black", "domainWidth": 2.3, "tickColor": "black", "tickWidth": 1.8, "labelPadding": 2, "labelOverlap": false, "labelFlush": false},
    "axisY": {"tickSize": 6, "tickWidth": 2, "labelPadding": 2},
    "legend": {"labelFont": "Liberation Sans", "labelFontSize": 18, "labelColor": "black", "symbolType": "circle", "symbolSize": 45, "symbolStrokeWidth": 0, "symbolOpacity": 1, "labelOffset": 9, "padding": 0, "rowPadding": 5, "offset": 0}
  }
}
